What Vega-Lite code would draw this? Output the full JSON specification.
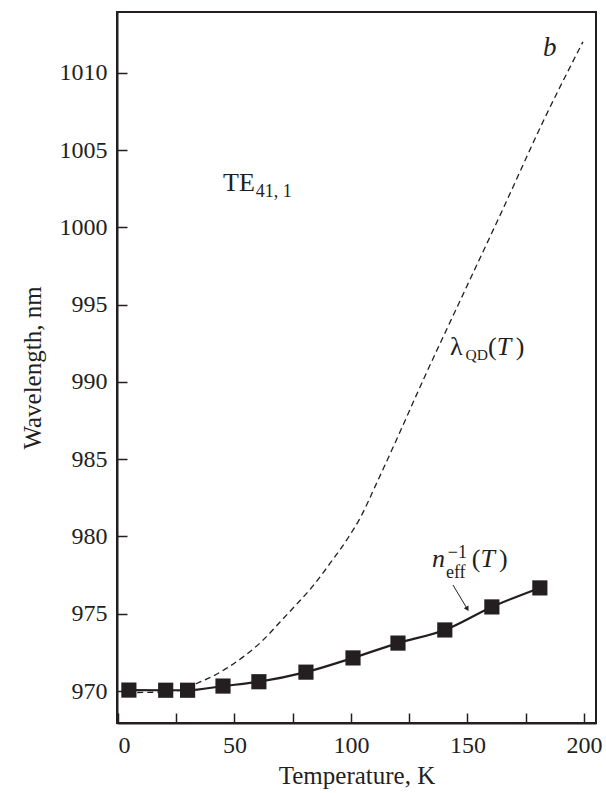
{
  "$schema": "https://vega.github.io/schema/vega-lite/v6.json",
  "autosize": "none",
  "width": 479,
  "height": 711,
  "padding": {"left": 117, "top": 12, "right": 10, "bottom": 70},
  "background": "white",
  "config": {
    "view": {"stroke": "#231f20", "strokeWidth": 2},
    "font": "Liberation Serif",
    "axis": {
      "domainColor": "#231f20", "domainWidth": 2, "tickColor": "#231f20", "tickWidth": 1.5,
      "labelFont": "Liberation Serif", "labelFontSize": 24, "labelColor": "#231f20",
      "titleFont": "Liberation Serif", "titleFontSize": 25, "titleFontWeight": "normal", "titleColor": "#231f20",
      "grid": false
    }
  },
  "datasets": {
    "qd": [
      {"T": 4, "wl": 969.9}, {"T": 15, "wl": 969.92}, {"T": 25, "wl": 970.0}, {"T": 30, "wl": 970.2},
      {"T": 34, "wl": 970.5}, {"T": 41, "wl": 970.98}, {"T": 48, "wl": 971.6}, {"T": 55, "wl": 972.35},
      {"T": 62, "wl": 973.25}, {"T": 69.5, "wl": 974.45}, {"T": 76, "wl": 975.5}, {"T": 83.7, "wl": 976.8},
      {"T": 91, "wl": 978.25}, {"T": 98.3, "wl": 979.8}, {"T": 104, "wl": 981.2}, {"T": 111.2, "wl": 983.5},
      {"T": 120, "wl": 986.4}, {"T": 130.5, "wl": 989.95}, {"T": 146.4, "wl": 995.1}, {"T": 165, "wl": 1001.1},
      {"T": 183.3, "wl": 1007.1}, {"T": 199.6, "wl": 1012.0}
    ],
    "neff": [
      {"T": 4.7, "wl": 970.06}, {"T": 20.5, "wl": 970.05}, {"T": 29.9, "wl": 970.05}, {"T": 45.1, "wl": 970.32},
      {"T": 60.5, "wl": 970.6}, {"T": 80.7, "wl": 971.22}, {"T": 100.9, "wl": 972.14}, {"T": 120.2, "wl": 973.1},
      {"T": 140.3, "wl": 973.95}, {"T": 160.5, "wl": 975.44}, {"T": 181.1, "wl": 976.67}
    ]
  },
  "encoding": {
    "x": {"field": "T", "type": "quantitative",
      "scale": {"domain": [-0.4, 205.2], "nice": false, "zero": false},
      "axis": {"title": "Temperature, K", "values": [0, 25, 50, 75, 100, 125, 150, 175, 200],
        "labelExpr": "datum.value % 50 == 0 ? datum.label : ''", "tickSize": -10,
        "labelFont": "Liberation Serif", "labelFontSize": 24,
        "labelPadding": 20, "titlePadding": 6}},
    "y": {"field": "wl", "type": "quantitative",
      "scale": {"domain": [967.93, 1013.93], "nice": false, "zero": false},
      "axis": {"title": "Wavelength, nm", "values": [970, 975, 980, 985, 990, 995, 1000, 1005, 1010],
        "format": "d", "labelFont": "Liberation Serif", "labelFontSize": 24,
        "tickSize": -10, "labelPadding": 20, "titlePadding": 14}}
  },
  "layer": [
    {"data": {"name": "qd"}, "mark": {"type": "line", "interpolate": "monotone", "color": "#231f20", "strokeWidth": 1.3, "strokeDash": [6, 4]}},
    {"data": {"name": "neff"}, "mark": {"type": "line", "interpolate": "monotone", "color": "#231f20", "strokeWidth": 2.2}},
    {"data": {"name": "neff"}, "mark": {"type": "point", "shape": "square", "size": 230, "filled": true, "fill": "#231f20", "opacity": 1, "strokeWidth": 0}},
    {"data": {"values": [{"T": 143.8, "wl": 976.86, "T2": 149.6, "wl2": 975.4}]},
      "mark": {"type": "rule", "color": "#231f20", "strokeWidth": 1},
      "encoding": {"x2": {"field": "T2"}, "y2": {"field": "wl2"}}},
    {"data": {"values": [{"T": 149.8, "wl": 975.35}]},
      "mark": {"type": "point", "shape": "triangle", "angle": 149, "size": 30, "filled": true, "fill": "#231f20", "opacity": 1, "strokeWidth": 0}},
    {"data": {"values": [
        {"T": 45.1, "wl": 1002.36, "label": "TE"},
        {"T": 142.5, "wl": 991.75, "label": "λ"},
        {"T": 158.8, "wl": 991.75, "label": "("},
        {"T": 170.8, "wl": 991.75, "label": ")"},
        {"T": 151.9, "wl": 978.03, "label": "("},
        {"T": 163.6, "wl": 978.03, "label": ")"}
      ]},
      "mark": {"type": "text", "align": "left", "baseline": "alphabetic", "fontSize": 26, "color": "#231f20"},
      "encoding": {"text": {"field": "label"}}},
    {"data": {"values": [
        {"T": 162.6, "wl": 991.75, "label": "T"},
        {"T": 134.8, "wl": 978.03, "label": "n"},
        {"T": 155.6, "wl": 978.03, "label": "T"}
      ]},
      "mark": {"type": "text", "align": "left", "baseline": "alphabetic", "fontSize": 26, "fontStyle": "italic", "color": "#231f20"},
      "encoding": {"text": {"field": "label"}}},
    {"data": {"values": [{"T": 185.4, "wl": 1011.6, "label": "b"}]},
      "mark": {"type": "text", "align": "center", "baseline": "middle", "fontSize": 27, "fontStyle": "italic", "color": "#231f20"},
      "encoding": {"text": {"field": "label"}}},
    {"data": {"values": [
        {"T": 59.2, "wl": 1001.97, "label": "41, 1"},
        {"T": 141.6, "wl": 978.6, "label": "−1"},
        {"T": 140.8, "wl": 977.3, "label": "eff"}
      ]},
      "mark": {"type": "text", "align": "left", "baseline": "alphabetic", "fontSize": 18, "color": "#231f20"},
      "encoding": {"text": {"field": "label"}}},
    {"data": {"values": [{"T": 149.2, "wl": 991.42, "label": "QD"}]},
      "mark": {"type": "text", "align": "left", "baseline": "alphabetic", "fontSize": 15.5, "color": "#231f20"},
      "encoding": {"text": {"field": "label"}}}
  ]
}
